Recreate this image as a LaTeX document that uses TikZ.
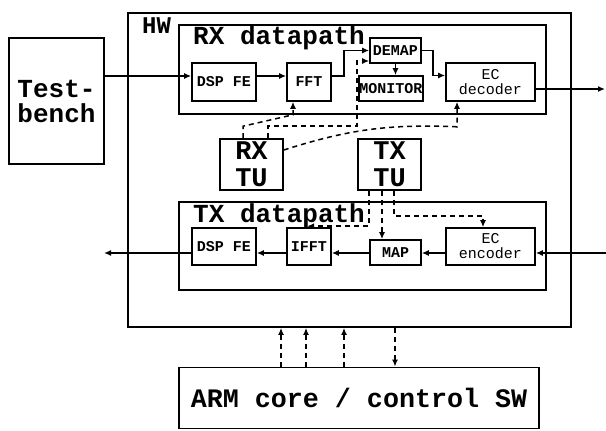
\documentclass[tikz,border=0pt]{standalone}
\usepackage{fontspec}
\setmonofont{Liberation Mono}
\usetikzlibrary{arrows.meta, positioning, calc}
\tikzset{
    frame/.style={draw, line width=1.8pt, inner sep=0pt},
    unit/.style={draw, line width=1.6pt, inner sep=0pt, align=center,
                 font=\fontsize{15}{15}\selectfont\ttfamily\bfseries},
    ecunit/.style={unit, font=\fontsize{15}{15}\selectfont\ttfamily},
    tunit/.style={draw, line width=1.6pt, inner sep=0pt, align=center,
                  minimum width=63pt, minimum height=51pt,
                  font=\fontsize{27}{27}\selectfont\ttfamily\bfseries},
    title/.style={inner sep=0pt, font=\fontsize{26}{26}\selectfont\ttfamily\bfseries},
    flow/.style={-{Latex[length=7pt,width=6pt]}, line width=1.5pt},
    ctrl/.style={-{Latex[length=7pt,width=6pt]}, line width=1.5pt, dash pattern=on 5pt off 4pt},
}

\begin{document}
\begin{tikzpicture}[x=1pt, y=-1pt]
    \useasboundingbox (0,0) rectangle (606,431);

    % ── OUTER BLOCKS ──
    \node[frame, minimum width=95pt, minimum height=126pt, align=center,
          font=\fontsize{26}{25}\selectfont\ttfamily\bfseries] (tb) at (56.5,101) {Test-\\bench};
    \node[frame, minimum width=443pt, minimum height=314pt] (hw) at (349.5,170) {};
    \node[title, anchor=base west, font=\fontsize{24}{24}\selectfont\ttfamily\bfseries] (hwl) at (142,33) {HW};
    \node[frame, minimum width=360pt, minimum height=61pt,
          font=\fontsize{26.7}{27}\selectfont\ttfamily\bfseries] (arm) at (359,398) {ARM core / control SW};

    % ── RX DATAPATH ──
    \node[frame, minimum width=367pt, minimum height=89pt] (rxdp) at (362.5,69.5) {};
    \node[title, anchor=base west] (rxl) at (193,45) {RX datapath};
    \node[unit, minimum width=64pt, minimum height=38pt] (rxfe) at (224,82) {DSP FE};
    \node[unit, minimum width=44pt, minimum height=38pt] (fft) at (309,82) {FFT};
    \node[unit, minimum width=51pt, minimum height=25pt] (demap) at (395.5,50.5) {DEMAP};
    \node[unit, minimum width=64pt, minimum height=25pt] (monitor) at (391,88.5) {MONITOR};
    \node[ecunit, minimum width=89pt, minimum height=38pt] (ecdec) at (490.5,82) {EC\\decoder};

    % ── TEST UNITS ──
    \node[tunit] (rxtu) at (251.5,164.5) {RX\\TU};
    \node[tunit] (txtu) at (389.5,164.5) {TX\\TU};

    % ── TX DATAPATH ──
    \node[frame, minimum width=367pt, minimum height=88pt] (txdp) at (362.5,246) {};
    \node[title, anchor=base west] (txl) at (193,222) {TX datapath};
    \node[unit, minimum width=64pt, minimum height=37pt] (txfe) at (224,246.5) {DSP FE};
    \node[unit, minimum width=44pt, minimum height=37pt] (ifft) at (309,246.5) {IFFT};
    \node[unit, minimum width=51pt, minimum height=25pt] (map) at (395.5,252.5) {MAP};
    \node[ecunit, minimum width=89pt, minimum height=37pt] (ecenc) at (490.5,246.5) {EC\\encoder};

    % ── RX FLOW ──
    \coordinate (rxin) at ([yshift=6pt]rxfe.west);
    \coordinate (rxout) at (605,89);
    \draw[flow] (tb.east |- rxin) -- (rxin);
    \draw[flow] ([yshift=6pt]rxfe.east) -- ([yshift=6pt]fft.west);
    \draw[flow] ([yshift=6pt]fft.east) -- ++(12,0) |- (demap.west);
    \draw[flow] (demap.south) -- (demap.south |- monitor.north);
    \draw[flow] (demap.east) -- ++(11,0) |- ([yshift=6.5pt]ecdec.west);
    \draw[flow] (ecdec.east |- rxout) -- (rxout);

    % ── TX FLOW ──
    \coordinate (txin) at (606,253);
    \coordinate (txout) at (104,253);
    \draw[flow] (txin) -- (txin -| ecenc.east);
    \draw[flow] (txin -| ecenc.west) -- (txin -| map.east);
    \draw[flow] (txin -| map.west) -- (txin -| ifft.east);
    \draw[flow] (txin -| ifft.west) -- (txin -| txfe.east);
    \draw[flow] (txin -| txfe.west) -- (txout);

    % ── CONTROL ──
    \draw[ctrl] ([xshift=-8.5pt]rxtu.north) -- ++(0,-12)
        -- ([xshift=-16pt,yshift=-13pt]fft.south) -- ([xshift=-16pt]fft.south);
    \draw[ctrl] ([xshift=16.5pt]rxtu.north) -- ++(0,-12) -- ++(89,0)
        |- ([yshift=-10.5pt]demap.west);
    \draw[ctrl] ([yshift=14.5pt]rxtu.east) to[bend left=10] ([xshift=-33.5pt,yshift=-25pt]ecdec.south)
        -- ([xshift=-33.5pt]ecdec.south);

    \coordinate (tx1) at ($(txtu.south)+(-20.5,0)$);
    \coordinate (tx2) at ($(txtu.south)+(-7.5,0)$);
    \coordinate (tx3) at ($(txtu.south)+(4.5,0)$);
    \draw[ctrl] (tx1) |- ([xshift=-2pt,yshift=1pt]ifft.north);
    \draw[ctrl] (tx2) -- (tx2 |- map.north);
    \draw[ctrl] (tx3) -- ++(0,25) -| ([xshift=-7.5pt]ecenc.north);

    \foreach \dx/\nm in {-78/a, -53/b, -15/c, 36/d}
        \coordinate (arm\nm) at ($(arm.north)+(\dx,0)$);
    \foreach \nm in {a, b, c}
        \draw[ctrl] (arm\nm) -- (arm\nm |- hw.south);
    \draw[ctrl] (armd |- hw.south) -- (armd);

\end{tikzpicture}
\end{document}
